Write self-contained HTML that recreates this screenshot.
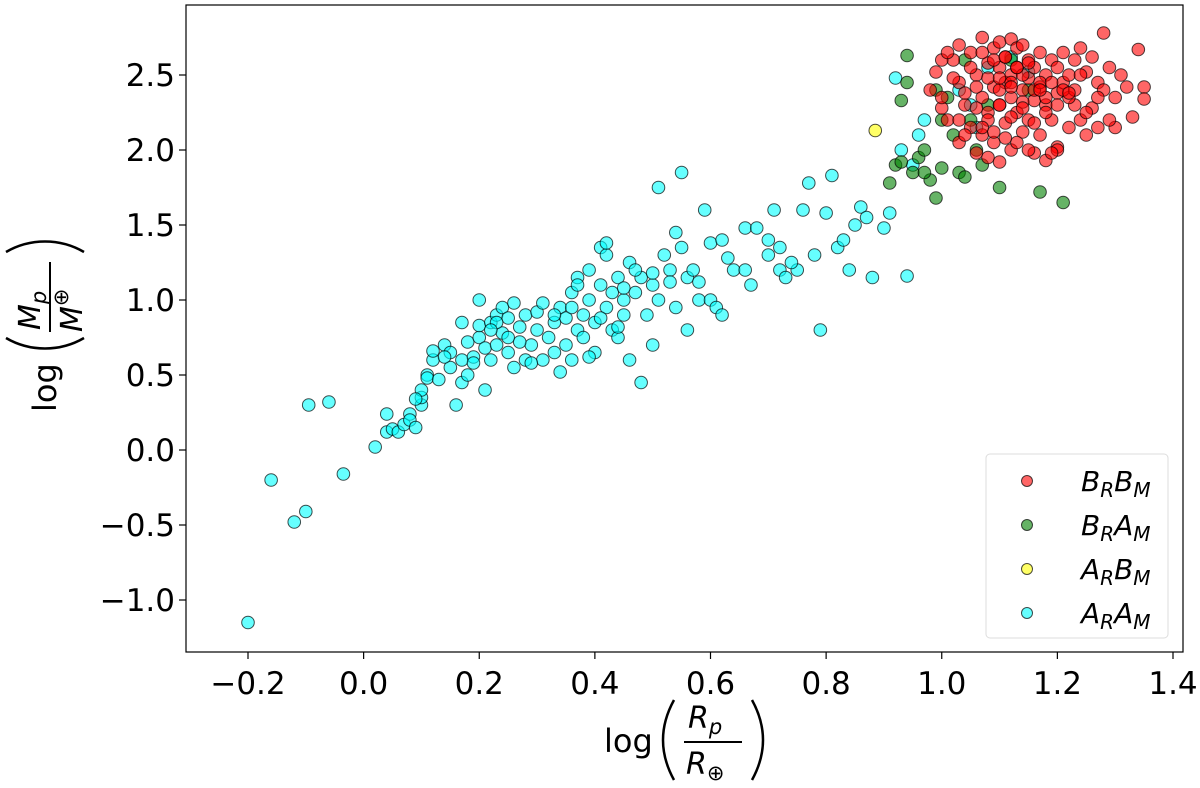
<!DOCTYPE html>
<html><head><meta charset="utf-8"><style>
body{margin:0;background:#fff}
svg{display:block;font-family:"DejaVu Sans","Liberation Sans",sans-serif}
</style></head><body>
<svg id="chart" width="1200" height="788" viewBox="0 0 1200 788">
<g id="points"></g>
<rect x="186" y="5" width="997" height="647" fill="none" stroke="#000" stroke-width="1.2"/>
<g id="axes"></g>
<g font-size="32">
<text x="604" y="752">log</text>
<path d="M674 700 Q652 740 674 780" fill="none" stroke="#000" stroke-width="2.5"/>
<text x="688" y="728" font-style="italic" font-size="30">R<tspan font-size="21" dy="6">p</tspan></text>
<line x1="684" y1="742" x2="742" y2="742" stroke="#000" stroke-width="2"/>
<text x="686" y="774" font-style="italic" font-size="30">R<tspan font-size="21" dy="6" font-style="normal">⊕</tspan></text>
<path d="M752 700 Q774 740 752 780" fill="none" stroke="#000" stroke-width="2.5"/>
</g>
<g transform="rotate(-90)" font-size="32">
<text x="-412" y="56">log</text>
<path d="M-352 8 Q-322 -12 -292 -12 Q-262 -12 -232 8" fill="none" stroke="#000" stroke-width="0"/>
<path d="M-344 6 Q-296 -22 -248 6" fill="none" stroke="#000" stroke-width="0"/>
<path d="M-342 2 Q-304 100 -342 2" fill="none" stroke="none"/>
<path d="M-340 4 Q-380 45 -340 86" fill="none" stroke="#000" stroke-width="0"/>
<path d="M-338 6 C-352 30 -352 60 -338 84" fill="none" stroke="#000" stroke-width="2.5"/>
<text x="-330" y="40" font-style="italic" font-size="30">M<tspan font-size="21" dy="6">p</tspan></text>
<line x1="-332" y1="50" x2="-262" y2="50" stroke="#000" stroke-width="2"/>
<text x="-332" y="82" font-style="italic" font-size="30">M<tspan font-size="21" dy="-14" font-style="normal">⊕</tspan></text>
<path d="M-252 6 C-238 30 -238 60 -252 84" fill="none" stroke="#000" stroke-width="2.5"/>
</g>
<g>
<rect x="986" y="454" width="182" height="184" rx="4" fill="#fff" fill-opacity="0.8" stroke="#ddd"/>
<g id="legend-items"></g>
</g>
</svg>
<script>
const xTicks=[-0.2,0,0.2,0.4,0.6,0.8,1.0,1.2,1.4];
const xTickLabels=["−0.2","0.0","0.2","0.4","0.6","0.8","1.0","1.2","1.4"];
const yTicks=[-1.0,-0.5,0,0.5,1.0,1.5,2.0,2.5];
const yTickLabels=["−1.0","−0.5","0.0","0.5","1.0","1.5","2.0","2.5"];
const seriesNames=["B_R B_M","B_R A_M","A_R B_M","A_R A_M"];
const seriesColors=["#ff0000","#008000","#ffff00","#00ffff"];
const legendLabels=[["B","R","B","M"],["B","R","A","M"],["A","R","B","M"],["A","R","A","M"]];
const cyanX=[-0.2,-0.16,-0.12,-0.1,-0.095,-0.06,-0.035,0.02,0.04,0.04,0.05,0.06,0.07,0.08,0.08,0.09,0.1,0.1,0.1,0.11,0.11,0.12,0.12,0.13,0.14,0.15,0.15,0.16,0.17,0.17,0.18,0.18,0.19,0.2,0.2,0.2,0.21,0.21,0.22,0.22,0.23,0.23,0.24,0.24,0.25,0.25,0.26,0.26,0.27,0.28,0.28,0.29,0.3,0.3,0.31,0.32,0.33,0.33,0.34,0.34,0.35,0.35,0.36,0.36,0.37,0.37,0.38,0.38,0.39,0.39,0.4,0.4,0.41,0.41,0.42,0.42,0.42,0.43,0.43,0.44,0.44,0.45,0.45,0.46,0.46,0.47,0.48,0.48,0.49,0.5,0.5,0.51,0.51,0.52,0.53,0.54,0.54,0.55,0.55,0.56,0.56,0.57,0.58,0.59,0.6,0.6,0.61,0.62,0.62,0.64,0.66,0.67,0.68,0.7,0.7,0.71,0.72,0.72,0.73,0.75,0.76,0.77,0.78,0.79,0.8,0.81,0.82,0.83,0.84,0.85,0.86,0.87,0.88,0.9,0.91,0.92,0.93,0.94,0.95,0.96,0.97,1.03,1.06,1.08,1.12,1.15,1.05,0.23,0.27,0.31,0.19,0.36,0.45,0.53,0.39,0.44,0.29,0.22,0.14,0.33,0.47,0.58,0.41,0.25,0.37,0.5,0.63,0.66,0.74,0.09,0.17];
const cyanY=[-1.15,-0.2,-0.48,-0.41,0.3,0.32,-0.16,0.02,0.12,0.24,0.14,0.12,0.17,0.24,0.2,0.15,0.3,0.35,0.4,0.5,0.48,0.6,0.66,0.47,0.7,0.65,0.55,0.3,0.45,0.6,0.72,0.5,0.62,0.75,0.83,1.0,0.68,0.4,0.85,0.6,0.7,0.9,0.95,0.78,0.88,0.65,0.98,0.55,0.82,0.6,0.9,0.7,0.8,0.92,0.6,0.75,0.65,0.85,0.95,0.52,0.7,0.88,0.6,1.05,0.8,1.15,0.9,0.75,1.0,1.2,0.85,0.65,1.1,1.35,0.95,1.3,1.38,0.8,1.05,0.75,1.15,1.0,0.9,1.25,0.6,1.05,0.45,1.15,0.9,1.1,0.7,1.75,1.0,1.3,1.2,1.45,0.95,1.35,1.85,1.15,0.8,1.2,1.0,1.6,1.0,1.38,0.95,1.4,0.9,1.2,1.48,1.1,1.48,1.3,1.4,1.6,1.35,1.2,1.15,1.2,1.6,1.78,1.3,0.8,1.58,1.83,1.35,1.4,1.2,1.5,1.62,1.55,1.15,1.48,1.58,2.48,2.0,1.16,1.9,2.1,2.2,2.4,2.15,2.55,2.62,2.52,2.3,0.85,0.72,0.98,0.58,0.95,1.08,1.12,0.62,0.82,0.58,0.8,0.62,0.9,1.2,1.12,0.88,0.75,1.1,1.18,1.28,1.2,1.25,0.34,0.85];
const greenX=[0.92,0.93,0.94,0.94,0.95,0.96,0.97,0.98,0.99,1.0,1.0,1.01,1.02,1.03,1.04,1.05,1.06,1.07,1.08,1.1,1.12,1.15,1.17,1.21,0.91,0.99,1.04,0.93,0.97];
const greenY=[1.9,2.33,2.63,2.45,1.85,1.95,2.0,1.8,1.68,1.88,2.2,2.35,2.1,1.85,1.82,2.2,2.0,1.9,2.3,1.75,2.6,2.4,1.72,1.65,1.78,2.4,2.6,1.92,1.85];
const yellowX=[0.885];
const yellowY=[2.13];
const redX=[0.98,0.99,1.0,1.01,1.02,1.03,1.03,1.04,1.05,1.05,1.06,1.06,1.07,1.07,1.07,1.08,1.08,1.08,1.09,1.09,1.09,1.1,1.1,1.1,1.1,1.11,1.11,1.11,1.12,1.12,1.12,1.12,1.13,1.13,1.13,1.14,1.14,1.14,1.15,1.15,1.15,1.16,1.16,1.16,1.17,1.17,1.17,1.18,1.18,1.18,1.19,1.19,1.2,1.2,1.2,1.21,1.21,1.22,1.22,1.23,1.23,1.24,1.24,1.25,1.25,1.26,1.26,1.27,1.27,1.28,1.28,1.29,1.3,1.3,1.31,1.32,1.33,1.34,1.35,1.35,1.0,1.02,1.04,1.06,1.08,1.1,1.12,1.14,1.16,1.18,1.2,1.22,1.24,1.05,1.09,1.13,1.17,1.21,1.01,1.03,1.07,1.11,1.15,1.19,1.23,1.27,1.06,1.1,1.14,1.18,1.08,1.12,1.16,1.04,1.09,1.13,1.2,1.25,1.15,1.11,1.07,1.03,1.19,1.29,1.0,1.12,1.17,1.22,1.1,1.14];
const redY=[2.4,2.52,2.28,2.2,2.6,2.45,2.05,2.3,2.65,2.15,2.5,1.98,2.75,2.35,2.1,2.58,2.25,1.95,2.68,2.42,2.05,2.72,2.55,2.3,1.92,2.62,2.45,2.18,2.74,2.5,2.35,2.0,2.68,2.55,2.25,2.7,2.4,2.12,2.6,2.48,2.2,2.55,2.33,1.98,2.65,2.42,2.1,2.5,2.3,1.93,2.6,2.2,2.55,2.38,2.02,2.65,2.45,2.5,2.15,2.6,2.3,2.68,2.2,2.52,2.1,2.62,2.28,2.45,2.15,2.78,2.4,2.55,2.35,2.15,2.5,2.42,2.22,2.67,2.42,2.34,2.6,2.48,2.38,2.42,2.48,2.4,2.45,2.5,2.4,2.35,2.3,2.35,2.5,2.55,2.6,2.55,2.45,2.4,2.65,2.7,2.65,2.62,2.58,2.45,2.4,2.35,2.28,2.3,2.32,2.25,2.2,2.22,2.18,2.1,2.12,2.05,2.0,2.25,2.0,2.08,2.15,2.2,1.98,2.2,2.35,2.42,2.4,2.38,2.48,2.28];
const X0=-0.2,X1=1.4,PX0=248,PX1=1173;
const Y0=0,Y1=2.5,PY0=450,PY1=75;
function sx(v){return PX0+(v-X0)/(X1-X0)*(PX1-PX0);}
function sy(v){return PY0+(v-Y0)/(Y1-Y0)*(PY1-PY0);}
const NS="http://www.w3.org/2000/svg";
function mk(t,a,p){const e=document.createElementNS(NS,t);for(const k in a)e.setAttribute(k,a[k]);p.appendChild(e);return e;}
const axes=document.getElementById('axes');
xTicks.forEach((v,i)=>{
  const l=mk('line',{x1:sx(v),x2:sx(v),y1:652,y2:659,stroke:'#000','stroke-width':1.2},axes);
  
  
  const t=mk('text',{x:sx(v),y:694,'text-anchor':'middle','font-size':31},axes);
  
  
  t.textContent=xTickLabels[i];
});
yTicks.forEach((v,i)=>{
  const l=mk('line',{x1:179,x2:186,y1:sy(v),y2:sy(v),stroke:'#000','stroke-width':1.2},axes);
  
  
  const t=mk('text',{x:175,y:sy(v)+11,'text-anchor':'end','font-size':31},axes);
  
  
  t.textContent=yTickLabels[i];
});
const pts=document.getElementById('points');
function draw(xs,ys,c,name){
  xs.forEach((x,i)=>{
    const e=mk('circle',{cx:sx(x),cy:sy(ys[i]),r:6.3,fill:c,'fill-opacity':0.6,stroke:'#000','stroke-opacity':0.7,'stroke-width':1},pts);
    
    
  });
}
draw(cyanX,cyanY,seriesColors[3],'point-ar-am');
draw(greenX,greenY,seriesColors[1],'point-br-am');
draw(yellowX,yellowY,seriesColors[2],'point-ar-bm');
draw(redX,redY,seriesColors[0],'point-br-bm');
const li=document.getElementById('legend-items');
legendLabels.forEach((lab,i)=>{
  const y=481+i*44;
  const c=mk('circle',{cx:1027,cy:y,r:5.5,fill:seriesColors[i],'fill-opacity':0.6,stroke:'#000','stroke-opacity':0.7},li);
  
  
  const t=mk('text',{x:1081,y:y+10,'font-size':28,'font-style':'italic'},li);
  
  
  t.innerHTML=lab[0]+'<tspan font-size="20" dy="6">'+lab[1]+'</tspan><tspan dy="-6">'+lab[2]+'</tspan><tspan font-size="20" dy="6">'+lab[3]+'</tspan>';
});
</script>
</body></html>
